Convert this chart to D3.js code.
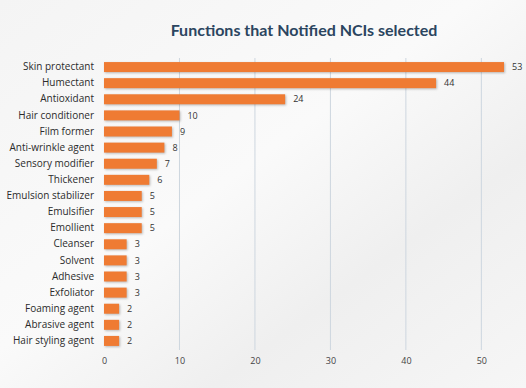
<!DOCTYPE html>
<html>
<head>
<meta charset="utf-8">
<script src="https://cdn.jsdelivr.net/npm/d3@7"></script>
<style>
  body { margin: 0; background: #f2f2f2; }
  svg { display: block; }
</style>
</head>
<body>
<div id="chart"></div>
<script>
var categories = ["Skin protectant", "Humectant", "Antioxidant", "Hair conditioner",
  "Film former", "Anti-wrinkle agent", "Sensory modifier", "Thickener",
  "Emulsion stabilizer", "Emulsifier", "Emollient", "Cleanser", "Solvent",
  "Adhesive", "Exfoliator", "Foaming agent", "Abrasive agent", "Hair styling agent"];
var counts = [53, 44, 24, 10, 9, 8, 7, 6, 5, 5, 5, 3, 3, 3, 3, 2, 2, 2];
var xTicks = [0, 10, 20, 30, 40, 50];

var svgWidth = 526;
var svgHeight = 388;

var svg = d3.select("#chart")
  .append("svg")
  .attr("width", svgWidth)
  .attr("height", svgHeight);

// soft diagonal background
var defs = svg.append("defs");
var bg = defs.append("linearGradient")
  .attr("id", "bg")
  .attr("x1", "0").attr("y1", "0")
  .attr("x2", "1").attr("y2", "1");
bg.append("stop").attr("offset", "0%").attr("stop-color", "#f4f4f4");
bg.append("stop").attr("offset", "45%").attr("stop-color", "#fafafa");
bg.append("stop").attr("offset", "70%").attr("stop-color", "#efefef");
bg.append("stop").attr("offset", "100%").attr("stop-color", "#f6f6f6");

svg.append("rect")
  .attr("width", svgWidth)
  .attr("height", svgHeight)
  .attr("fill", "url(#bg)");

var x = d3.scaleLinear()
  .domain([0, 53])
  .range([104, 504]);

var y = d3.scaleBand()
  .domain(categories)
  .range([59, 349])
  .paddingInner(0.38)
  .paddingOuter(0.19);

// title
svg.append("text")
  .attr("x", 304)
  .attr("y", 36)
  .attr("text-anchor", "middle")
  .attr("font-family", "Lato, sans-serif")
  .attr("font-weight", "bold")
  .attr("font-size", 16)
  .attr("fill", "#2b4560")
  .text("Functions that Notified NCIs selected");

// vertical grid lines
svg.append("g")
  .selectAll("line")
  .data(xTicks.slice(1))
  .enter()
  .append("line")
  .attr("x1", d => x(d))
  .attr("x2", d => x(d))
  .attr("y1", 58)
  .attr("y2", 350)
  .attr("stroke", "#cdd6df")
  .attr("stroke-width", 1);

// x axis labels
var xAxis = svg.append("g")
  .attr("transform", "translate(0, 350)")
  .call(d3.axisBottom(x).tickValues(xTicks).tickSize(0).tickPadding(8));
xAxis.select(".domain").remove();
xAxis.selectAll("text")
  .attr("font-family", "Open Sans, sans-serif")
  .attr("font-size", 9)
  .attr("fill", "#444");

// category labels
var yAxis = svg.append("g")
  .attr("transform", `translate(${x(0)}, 0)`)
  .call(d3.axisLeft(y).tickSize(0).tickPadding(10));
yAxis.select(".domain").remove();
yAxis.selectAll("text")
  .attr("font-family", "Open Sans, sans-serif")
  .attr("font-size", 10)
  .attr("fill", "#2b2b2b");

// bars
svg.append("g")
  .selectAll("rect")
  .data(counts)
  .enter()
  .append("rect")
  .attr("x", x(0))
  .attr("y", (d, i) => y(categories[i]))
  .attr("width", d => x(d) - x(0))
  .attr("height", y.bandwidth())
  .attr("fill", "#ef7b33")
  .style("filter", "drop-shadow(1px 1px 1px rgba(0,0,0,0.25))");

// value labels
svg.append("g")
  .selectAll("text")
  .data(counts)
  .enter()
  .append("text")
  .attr("x", d => x(d) + 8)
  .attr("y", (d, i) => y(categories[i]) + y.bandwidth() / 2)
  .attr("dy", "0.35em")
  .attr("font-family", "Open Sans, sans-serif")
  .attr("font-size", 9)
  .attr("fill", "#333")
  .text(d => d);
</script>
</body>
</html>
